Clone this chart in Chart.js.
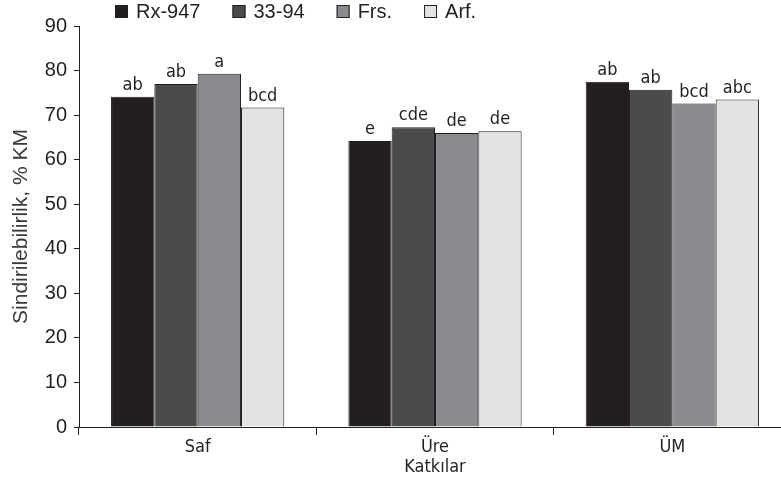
<!DOCTYPE html>
<html>
<head>
<meta charset="utf-8">
<script src="https://cdn.jsdelivr.net/npm/chart.js@4.4.0/dist/chart.umd.min.js"></script>
<style>
  html, body { margin: 0; padding: 0; background: #fff; overflow: hidden; }
  #wrap { position: absolute; left: 0; top: 0; width: 791px; height: 483px; }
</style>
</head>
<body>
<div id="wrap"><canvas id="barChart"></canvas></div>
<script>
// data
const categories = ["Saf", "Üre", "ÜM"];
const rx947 = [74.1, 64.2, 77.5];
const s3394 = [77.0, 67.3, 75.7];
const frs   = [79.3, 66.0, 72.6];
const arf   = [71.7, 66.4, 73.5];
const yTicks = [0, 10, 20, 30, 40, 50, 60, 70, 80, 90];
// letters over the bars
const letRx   = ["ab", "e", "ab"];
const let3394 = ["ab", "cde", "ab"];
const letFrs  = ["a", "de", "bcd"];
const letArf  = ["bcd", "de", "abc"];

const INK = "#231f20";
const NARROW = "'DejaVu Sans Condensed', 'Liberation Sans Narrow', sans-serif";
const PLAIN = "'Liberation Sans', Arial, sans-serif";

// letters on top of each bar
const letterPlugin = {
  id: "letters",
  afterDatasetsDraw(chart) {
    const ctx = chart.ctx;
    ctx.save();
    ctx.fillStyle = INK;
    ctx.font = "18px " + NARROW;
    ctx.textAlign = "center";
    ctx.textBaseline = "alphabetic";
    chart.data.datasets.forEach((ds, i) => {
      chart.getDatasetMeta(i).data.forEach((bar, j) => {
        ctx.fillText(ds.letters[j], bar.x, bar.y - 7);
      });
    });
    ctx.restore();
  }
};

// legend row at the top left
const legendPlugin = {
  id: "topLegend",
  afterDraw(chart) {
    const ctx = chart.ctx;
    ctx.save();
    ctx.font = "20px " + PLAIN;
    ctx.textBaseline = "middle";
    let x = 115;
    chart.data.datasets.forEach(ds => {
      ctx.fillStyle = ds.backgroundColor;
      ctx.fillRect(x, 5, 13, 13);
      ctx.strokeStyle = INK;
      ctx.lineWidth = 1;
      ctx.strokeRect(x + 0.5, 5.5, 12, 12);
      ctx.fillStyle = INK;
      ctx.fillText(ds.label, x + 21, 12);
      x += 21 + ctx.measureText(ds.label).width + 32;
    });
    ctx.restore();
  }
};

new Chart(document.getElementById("barChart"), {
  type: "bar",
  data: {
    labels: categories,
    datasets: [
      { label: "Rx-947", data: rx947, letters: letRx,   backgroundColor: "#231f20" },
      { label: "33-94",  data: s3394, letters: let3394, backgroundColor: "#4a4b4d" },
      { label: "Frs.",   data: frs,   letters: letFrs,  backgroundColor: "#8a8b8e" },
      { label: "Arf.",   data: arf,   letters: letArf,  backgroundColor: "#e1e2e4" }
    ].map(d => Object.assign(d, {
      borderColor: INK,
      borderWidth: 1,
      borderSkipped: "bottom",
      categoryPercentage: 0.73,
      barPercentage: 1.0
    }))
  },
  options: {
    responsive: true,
    maintainAspectRatio: false,
    animation: false,
    layout: { padding: { top: 26, right: 0, bottom: 0, left: 0 } },
    plugins: {
      legend: { display: false },
      tooltip: { enabled: false }
    },
    scales: {
      x: {
        grid: { display: true, drawOnChartArea: false, drawTicks: true, tickLength: 8, color: INK, offset: true },
        border: { display: true, color: INK, width: 1 },
        ticks: { color: INK, font: { family: NARROW, size: 18 }, padding: 2 },
        title: { display: true, text: "Katkılar", color: INK, font: { family: NARROW, size: 18 }, padding: { top: 0, bottom: 5 } },
        afterFit: s => { s.height = 56; }
      },
      y: {
        min: 0,
        max: 90,
        afterBuildTicks: s => { s.ticks = yTicks.map(v => ({ value: v })); },
        grid: { display: true, drawOnChartArea: false, drawTicks: true, tickLength: 5, color: INK },
        border: { display: true, color: INK, width: 1 },
        ticks: { color: INK, font: { family: PLAIN, size: 20 }, padding: 7 },
        title: { display: true, text: "Sindirilebilirlik, % KM", color: "#3a3a3a", font: { family: PLAIN, size: 21 }, padding: { top: 9, bottom: 0 } },
        afterFit: s => { s.width = 79; }
      }
    }
  },
  plugins: [letterPlugin, legendPlugin]
});
</script>
</body>
</html>
